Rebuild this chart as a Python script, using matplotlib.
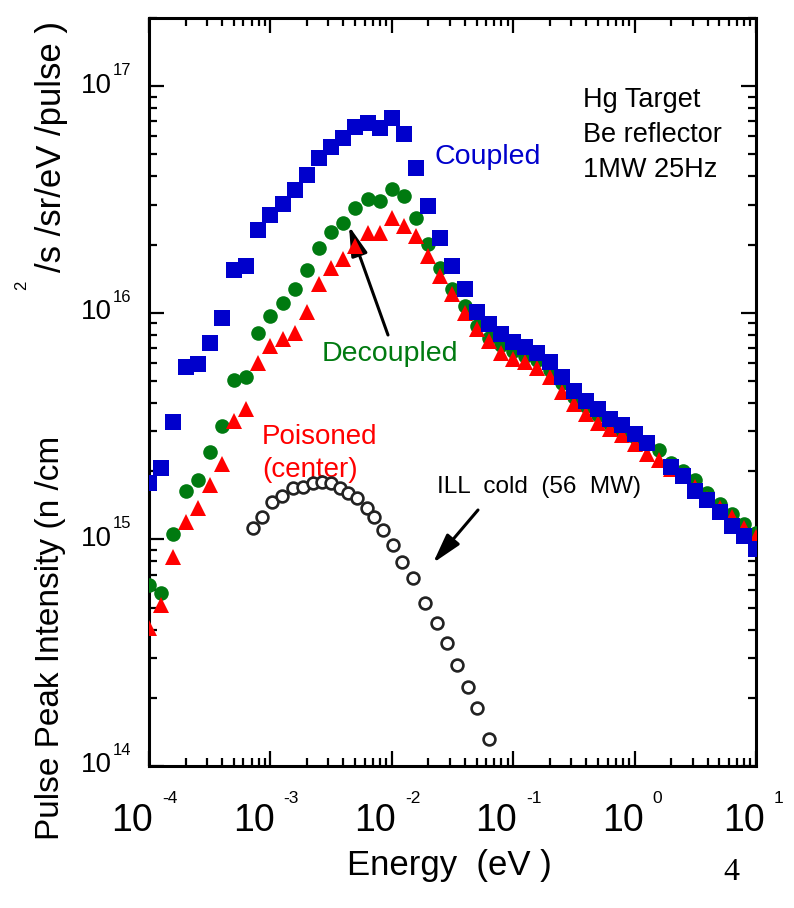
import numpy as np
import matplotlib
matplotlib.use('Agg')
import matplotlib.pyplot as plt
from matplotlib import font_manager
from matplotlib.transforms import blended_transform_factory
from matplotlib.ticker import LogLocator, NullFormatter

# ---------------- data ----------------
energy = [1.00e-4, 1.26e-4, 1.58e-4, 2.00e-4, 2.51e-4, 3.16e-4, 3.98e-4, 5.01e-4, 6.31e-4, 7.94e-4,
          1.00e-3, 1.26e-3, 1.58e-3, 2.00e-3, 2.51e-3, 3.16e-3, 3.98e-3, 5.01e-3, 6.31e-3, 7.94e-3,
          1.00e-2, 1.26e-2, 1.58e-2, 2.00e-2, 2.51e-2, 3.16e-2, 3.98e-2, 5.01e-2, 6.31e-2, 7.94e-2,
          1.00e-1, 1.26e-1, 1.58e-1, 2.00e-1, 2.51e-1, 3.16e-1, 3.98e-1, 5.01e-1, 6.31e-1, 7.94e-1,
          1.00e0, 1.26e0, 1.58e0, 2.00e0, 2.51e0, 3.16e0, 3.98e0, 5.01e0, 6.31e0, 7.94e0,
          1.00e1]

coupled = [1.78e15, 2.07e15, 3.31e15, 5.78e15, 5.96e15, 7.38e15, 9.51e15, 1.55e16, 1.61e16, 2.32e16,
           2.70e16, 3.02e16, 3.48e16, 4.06e16, 4.82e16, 5.38e16, 5.90e16, 6.59e16, 6.87e16, 6.53e16,
           7.23e16, 6.15e16, 4.36e16, 2.96e16, 2.14e16, 1.61e16, 1.28e16, 1.01e16, 8.95e15, 8.07e15,
           7.40e15, 7.03e15, 6.68e15, 6.04e15, 5.22e15, 4.53e15, 4.09e15, 3.77e15, 3.40e15, 3.21e15,
           2.93e15, 2.65e15, np.nan, 2.08e15, 1.90e15, 1.64e15, 1.49e15, 1.32e15, 1.15e15, 1.04e15,
           9.10e14]

decoupled = [6.27e14, 5.78e14, 1.06e15, 1.64e15, 1.82e15, 2.42e15, 3.18e15, 5.07e15, 5.22e15, 8.17e15,
             9.70e15, 1.10e16, 1.28e16, 1.55e16, 1.93e16, 2.28e16, 2.49e16, 2.90e16, 3.18e16, 3.11e16,
             3.52e16, 3.27e16, 2.62e16, 2.01e16, 1.58e16, 1.28e16, 1.07e16, 8.77e15, 7.76e15, 7.24e15,
             6.76e15, 6.46e15, 6.17e15, 5.62e15, 4.90e15, 4.27e15, 3.89e15, 3.55e15, 3.24e15, 3.02e15,
             2.82e15, 2.63e15, 2.47e15, 2.18e15, 2.01e15, 1.82e15, 1.61e15, 1.44e15, 1.30e15, 1.17e15,
             1.07e15]

poisoned = [4.06e14, 5.12e14, 8.34e14, 1.19e15, 1.37e15, 1.73e15, 2.16e15, 3.34e15, 3.78e15, 6.03e15,
            7.16e15, 7.67e15, 8.17e15, 1.01e16, 1.34e16, 1.58e16, 1.73e16, 1.97e16, 2.25e16, 2.25e16,
            2.62e16, 2.42e16, 2.18e16, 1.78e16, 1.46e16, 1.21e16, 1.00e16, 8.51e15, 7.53e15, 6.67e15,
            6.27e15, 6.08e15, 5.73e15, 5.22e15, 4.49e15, 3.97e15, 3.59e15, 3.27e15, 3.08e15, 2.88e15,
            2.63e15, 2.39e15, 2.23e15, 2.04e15, 1.91e15, 1.70e15, 1.51e15, 1.38e15, 1.26e15, 1.12e15,
            1.02e15]

ill_energy = [7.19e-4, 8.53e-4, 1.03e-3, 1.25e-3, 1.53e-3, 1.86e-3, 2.24e-3, 2.66e-3, 3.16e-3, 3.74e-3,
              4.36e-3, 5.16e-3, 6.25e-3, 7.13e-3, 8.47e-3, 1.02e-2, 1.21e-2, 1.50e-2, 1.88e-2, 2.36e-2,
              2.85e-2, 3.44e-2, 4.25e-2, 5.04e-2, 6.32e-2]
ill_cold = [1.12e15, 1.25e15, 1.46e15, 1.56e15, 1.68e15, 1.71e15, 1.78e15, 1.80e15, 1.77e15, 1.68e15,
            1.60e15, 1.52e15, 1.38e15, 1.25e15, 1.10e15, 9.42e14, 7.93e14, 6.73e14, 5.22e14, 4.27e14,
            3.48e14, 2.79e14, 2.23e14, 1.80e14, 1.32e14]

x_tick_values = [1e-4, 1e-3, 1e-2, 1e-1, 1e0, 1e1]
x_tick_exps = ['-4', '-3', '-2', '-1', '0', '1']
y_tick_values = [1e14, 1e15, 1e16, 1e17]
y_tick_exps = ['14', '15', '16', '17']

# ---------------- style ----------------
available = {f.name for f in font_manager.fontManager.ttflist}
SANS = 'Liberation Sans Narrow' if 'Liberation Sans Narrow' in available else 'Liberation Sans'
plt.rcParams['font.family'] = [SANS, 'DejaVu Sans']

BLUE = '#0000CC'
GREEN = '#007A10'
RED = '#FF0000'
PX = 0.72  # points per pixel at dpi 100

fig = plt.figure(figsize=(7.94, 9.08), dpi=100)
ax = fig.add_axes([149 / 794, 1 - 766 / 908, 607 / 794, 748 / 908])
ax.set_xscale('log')
ax.set_yscale('log')
ax.set_xlim(1e-4, 1e1)
ax.set_ylim(1e14, 2e17)

ax.plot(energy, decoupled, linestyle='none', marker='o', markersize=10.5, color=GREEN,
        markeredgewidth=0, zorder=3)
ax.plot(energy, poisoned, linestyle='none', marker='^', markersize=11.5, color=RED,
        markeredgewidth=0, zorder=4)
ax.plot(energy, coupled, linestyle='none', marker='s', markersize=11, color=BLUE,
        markeredgewidth=0, zorder=5)
ax.plot(ill_energy, ill_cold, linestyle='none', marker='o', markersize=8.5,
        markerfacecolor='white', markeredgecolor='#222222', markeredgewidth=1.9, zorder=6)

for s in ax.spines.values():
    s.set_linewidth(2.2)

ax.xaxis.set_major_locator(LogLocator(base=10, numticks=20))
ax.xaxis.set_minor_locator(LogLocator(base=10, subs=np.arange(2, 10), numticks=20))
ax.yaxis.set_major_locator(LogLocator(base=10, numticks=20))
ax.yaxis.set_minor_locator(LogLocator(base=10, subs=np.arange(2, 10), numticks=20))
for axis in (ax.xaxis, ax.yaxis):
    axis.set_major_formatter(NullFormatter())
    axis.set_minor_formatter(NullFormatter())
ax.tick_params(which='both', direction='in', top=True, right=True, width=1.6)
ax.tick_params(which='major', length=10.5)
ax.tick_params(which='minor', length=6)

# custom tick labels ("10" + small superscript)
bx = blended_transform_factory(ax.transData, ax.transAxes)
for v, e in zip(x_tick_values, x_tick_exps):
    neg = e.startswith('-')
    right_off = 4 if neg else 9
    sup_off = 13 if neg else 18
    ax.annotate('10', xy=(v, 0), xycoords=bx, xytext=(right_off * PX, -65 * PX),
                textcoords='offset points', ha='right', va='baseline', fontsize=27,
                annotation_clip=False)
    ax.annotate(e, xy=(v, 0), xycoords=bx, xytext=(sup_off * PX, -37 * PX),
                textcoords='offset points', ha='left', va='baseline', fontsize=12.5,
                annotation_clip=False)

by = blended_transform_factory(ax.transAxes, ax.transData)
for v, e in zip(y_tick_values, y_tick_exps):
    ax.annotate('10', xy=(0, v), xycoords=by, xytext=(-37 * PX, -6.5 * PX),
                textcoords='offset points', ha='right', va='baseline', fontsize=20,
                annotation_clip=False)
    ax.annotate(e, xy=(0, v), xycoords=by, xytext=(-36 * PX, 11 * PX),
                textcoords='offset points', ha='left', va='baseline', fontsize=12,
                annotation_clip=False)

# axis labels
fig.text(347 / 794, 1 - 875 / 908, 'Energy  (eV )', fontsize=25, ha='left', va='baseline')
fig.text(59 / 794, 1 - 840 / 908, 'Pulse Peak Intensity (n /cm', fontsize=24, rotation=90,
         rotation_mode='anchor', ha='left', va='baseline')
fig.text(26 / 794, 1 - 290 / 908, '2', fontsize=12, rotation=90,
         rotation_mode='anchor', ha='left', va='baseline')
fig.text(61 / 794, 1 - 272 / 908, '/s /sr/eV /pulse )', fontsize=25, rotation=90,
         rotation_mode='anchor', ha='left', va='baseline')
fig.text(723 / 794, 1 - 880 / 908, '4', fontsize=23, ha='left', va='baseline',
         family=['Liberation Serif', 'DejaVu Serif'])

# annotations (axes fraction positions)
def afx(px):
    return (px - 149) / 607


def afy(py):
    return (766 - py) / 748


ax.text(afx(435), afy(164), 'Coupled', transform=ax.transAxes, color=BLUE, fontsize=20.5,
        ha='left', va='baseline')
ax.text(afx(322), afy(361), 'Decoupled', transform=ax.transAxes, color=GREEN, fontsize=20.5,
        ha='left', va='baseline')
ax.text(afx(262), afy(444), 'Poisoned', transform=ax.transAxes, color=RED, fontsize=20,
        ha='left', va='baseline')
ax.text(afx(262), afy(477), '(center)', transform=ax.transAxes, color=RED, fontsize=20,
        ha='left', va='baseline')
ax.text(afx(437), afy(493), 'ILL  cold  (56  MW)', transform=ax.transAxes, color='black',
        fontsize=17.5, ha='left', va='baseline')
for py, line in zip([107, 142, 177], ['Hg Target', 'Be reflector', '1MW 25Hz']):
    ax.text(afx(583), afy(py), line, transform=ax.transAxes, color='black', fontsize=19.5,
            ha='left', va='baseline')

# arrows
arrow_style = dict(arrowstyle='-|>,head_length=0.9,head_width=0.25', lw=2.2, color='black',
                   shrinkA=0, shrinkB=0, mutation_scale=20)
ax.annotate('', xy=(afx(349), afy(226)), xycoords='axes fraction',
            xytext=(afx(388), afy(335)), textcoords='axes fraction', arrowprops=arrow_style)
ax.annotate('', xy=(afx(433), afy(563)), xycoords='axes fraction',
            xytext=(afx(478), afy(510)), textcoords='axes fraction', arrowprops=arrow_style)

fig.savefig('out.png', dpi=100)
